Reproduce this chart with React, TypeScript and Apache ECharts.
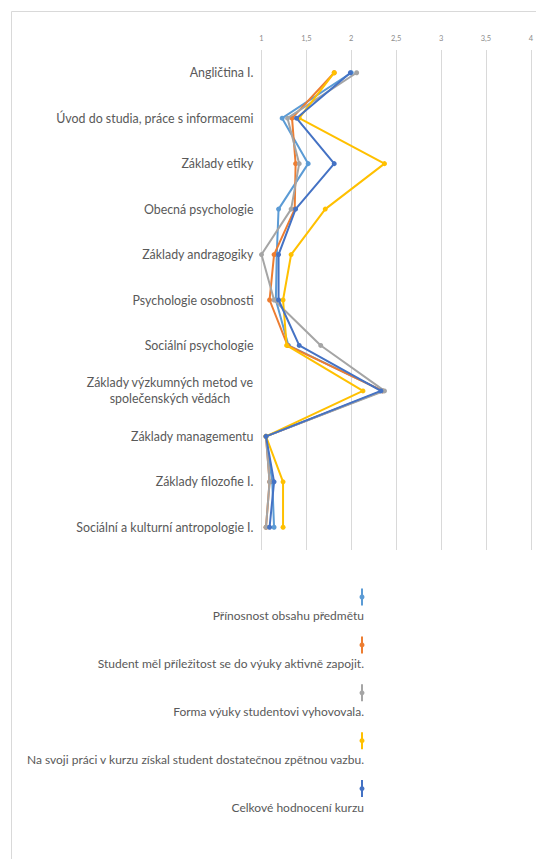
import React, { useEffect, useRef } from "react";
import * as echarts from "echarts";

const categories = [
  "Angličtina I.",
  "Úvod do studia, práce s informacemi",
  "Základy etiky",
  "Obecná psychologie",
  "Základy andragogiky",
  "Psychologie osobnosti",
  "Sociální psychologie",
  "Základy výzkumných metod ve\nspolečenských vědách",
  "Základy managementu",
  "Základy filozofie I.",
  "Sociální a kulturní antropologie I.",
];

const seriesNames = [
  "Přínosnost obsahu předmětu",
  "Student měl příležitost se do výuky aktivně zapojit.",
  "Forma výuky studentovi vyhovovala.",
  "Na svoji práci v kurzu získal student dostatečnou zpětnou vazbu.",
  "Celkové hodnocení kurzu",
];

const prinosnost = [2.0, 1.23, 1.52, 1.19, 1.17, 1.16, 1.3, 2.35, 1.05, 1.12, 1.14];
const zapojeni = [1.81, 1.34, 1.38, 1.37, 1.14, 1.09, 1.29, 2.35, 1.05, 1.09, 1.05];
const forma = [2.06, 1.29, 1.42, 1.33, 1.0, 1.14, 1.66, 2.37, 1.05, 1.09, 1.05];
const zpetnaVazba = [1.81, 1.42, 2.37, 1.71, 1.33, 1.24, 1.28, 2.13, 1.05, 1.24, 1.24];
const celkove = [1.99, 1.39, 1.81, 1.38, 1.19, 1.19, 1.42, 2.33, 1.05, 1.14, 1.09];

const seriesValues = [prinosnost, zapojeni, forma, zpetnaVazba, celkove];
const colors = ["#5B9BD5", "#ED7D31", "#A5A5A5", "#FFC000", "#4472C4"];

const axisMin = 1;
const axisMax = 4;
const axisInterval = 0.5;

export default function App() {
  const ref = useRef<HTMLDivElement>(null);

  useEffect(() => {
    if (!ref.current) return;
    const chart = echarts.init(ref.current, null, { renderer: "svg" });

    const legendGraphics: any[] = [];
    seriesNames.forEach((name, i) => {
      const iconY = 597 + i * 47.9;
      legendGraphics.push({
        type: "line",
        shape: { x1: 362, y1: iconY - 8.5, x2: 362, y2: iconY + 8.5 },
        style: { stroke: colors[i], lineWidth: 2 },
      });
      legendGraphics.push({
        type: "circle",
        shape: { cx: 362, cy: iconY, r: 2.5 },
        style: { fill: colors[i] },
      });
      legendGraphics.push({
        type: "text",
        x: 364,
        y: iconY + 18.7,
        style: {
          text: name,
          align: "right",
          verticalAlign: "middle",
          fill: "#595959",
          font: "12px Lato",
        },
      });
    });

    chart.setOption({
      animation: false,
      backgroundColor: "#ffffff",
      grid: { left: 261.5, right: 4, top: 50, bottom: 309 },
      xAxis: {
        type: "value",
        position: "top",
        min: axisMin,
        max: axisMax,
        interval: axisInterval,
        axisLine: { show: false },
        axisTick: { show: false },
        splitLine: { lineStyle: { color: "#d9d9d9", width: 1 } },
        axisLabel: {
          margin: 8,
          fontSize: 7.5,
          color: "#8c8c8c",
          fontFamily: "Lato",
          showMaxLabel: true,
          formatter: (v: number) => String(v).replace(".", ","),
        },
      },
      yAxis: {
        type: "category",
        inverse: true,
        data: categories,
        axisLine: { show: false },
        axisTick: { show: false },
        splitLine: { show: false },
        axisLabel: {
          margin: 8,
          fontSize: 12.4,
          color: "#595959",
          fontFamily: "Lato",
          lineHeight: 16,
          formatter: (v: string) =>
            v
              .split("\n")
              .map((l) => "{c|" + l + "}")
              .join("\n"),
          rich: {
            c: {
              align: "center",
              fontSize: 12.4,
              color: "#595959",
              fontFamily: "Lato",
              lineHeight: 16,
            },
          },
        },
      },
      series: seriesValues.map((vals, i) => ({
        name: seriesNames[i],
        type: "line",
        data: vals,
        symbol: "circle",
        symbolSize: 5,
        lineStyle: { color: colors[i], width: 2 },
        itemStyle: { color: colors[i] },
        z: 2 + i,
      })),
      graphic: [
        {
          type: "rect",
          shape: { x: 11.5, y: 11.5, width: 700, height: 1000 },
          style: { fill: "none", stroke: "#d9d9d9", lineWidth: 1 },
          silent: true,
        },
        ...legendGraphics,
      ],
    });

    return () => chart.dispose();
  }, []);

  return (
    <div
      ref={ref}
      style={{ position: "absolute", left: 0, top: 0, width: 536, height: 859 }}
    />
  );
}
